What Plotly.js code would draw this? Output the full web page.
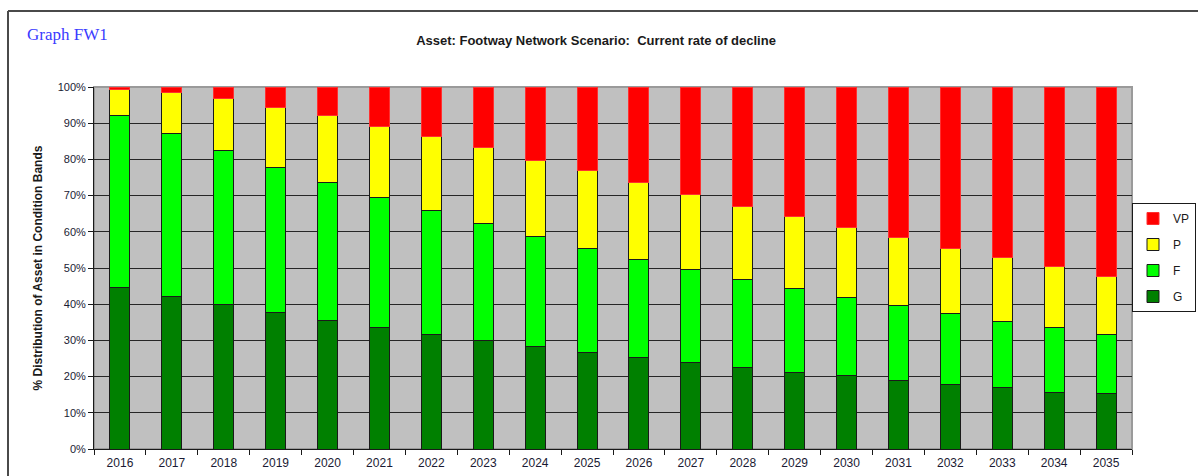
<!DOCTYPE html>
<html>
<head>
<meta charset="utf-8">
<script src="https://cdn.plot.ly/plotly-3.0.1.min.js"></script>
<style>
  html, body { margin: 0; padding: 0; background: #ffffff; }
  #chart { width: 1198px; height: 476px; }
</style>
</head>
<body>
<div id="chart"></div>
<script>
// Years (categories)
const years = ["2016","2017","2018","2019","2020","2021","2022","2023","2024","2025",
               "2026","2027","2028","2029","2030","2031","2032","2033","2034","2035"];

// Condition band shares (% of asset)
const goodG      = [44.5, 42.1, 39.8, 37.7, 35.4, 33.6, 31.7, 29.9, 28.3, 26.6,
                    25.2, 23.8, 22.6, 21.2, 20.2, 18.8, 17.9, 16.9, 15.7, 15.2];
const fairF      = [47.6, 45.1, 42.6, 40.0, 38.2, 36.0, 34.1, 32.3, 30.5, 28.8,
                    27.2, 25.9, 24.3, 23.1, 21.7, 20.9, 19.5, 18.4, 17.9, 16.3];
const poorP      = [7.3, 11.2, 14.3, 16.7, 18.4, 19.4, 20.5, 21.0, 21.0, 21.5,
                    21.2, 20.7, 20.2, 19.9, 19.2, 18.8, 18.0, 17.5, 16.7, 16.2];
const veryPoorVP = [0.6, 1.6, 3.3, 5.6, 8.0, 11.0, 13.7, 16.8, 20.2, 23.1,
                    26.4, 29.6, 32.9, 35.8, 38.9, 41.5, 44.6, 47.2, 49.7, 52.3];

const seriesNames = ["G", "F", "P", "VP"];
const yTickVals = [0,10,20,30,40,50,60,70,80,90,100];
const yTickText = ["0%","10%","20%","30%","40%","50%","60%","70%","80%","90%","100%"];

function barTrace(name, vals, fill, edge, rank) {
  return {
    type: "bar", name: name, x: years, y: vals, legendgroup: name, legendrank: rank,
    marker: { color: fill, line: { color: edge, width: 1 } },
    hoverinfo: "x+y+name"
  };
}

const data = [
  barTrace(seriesNames[0], goodG, "#008000", "#1a1a1a", 4),
  barTrace(seriesNames[1], fairF, "#00FF00", "#1a1a1a", 3),
  barTrace(seriesNames[2], poorP, "#FFFF00", "#1a1a1a", 2),
  barTrace(seriesNames[3], veryPoorVP, "#FF0000", "#FF3030", 1)
];

// plot area: x 94..1132, y 87..449
const L = 94, R = 1132, T = 87, B = 449;
const pw = R - L, ph = B - T;
function px(xp) { return (xp - L) / pw; }
function py(yp) { return (B - yp) / ph; }

const layout = {
  width: 1198, height: 476,
  margin: { l: L, r: 1198 - R, t: T, b: 476 - B, pad: 0 },
  paper_bgcolor: "#ffffff",
  plot_bgcolor: "#C0C0C0",
  barmode: "stack",
  bargap: 0.615,
  showlegend: true,
  font: { family: "Liberation Sans, Arial, sans-serif", color: "#1a1a1a", size: 11 },
  title: {
    text: "<b>Asset: Footway Network Scenario:  Current rate of decline</b>",
    font: { family: "Liberation Sans, Arial, sans-serif", size: 13, color: "#1a1a1a" },
    xref: "container", x: 0.4975, xanchor: "center",
    yref: "container", y: 1 - 40 / 476, yanchor: "middle"
  },
  xaxis: {
    type: "category",
    showgrid: false,
    showline: true, linecolor: "#1a1a1a", linewidth: 1,
    ticks: "outside", ticklen: 5, tickcolor: "#1a1a1a",
    tickson: "boundaries",
    ticklabelstandoff: 3,
    tickfont: { family: "Liberation Sans, Arial, sans-serif", size: 12, color: "#1a1a33" },
    fixedrange: true
  },
  yaxis: {
    range: [0, 100],
    tickmode: "array",
    tickvals: yTickVals,
    ticktext: yTickText,
    showgrid: true, gridcolor: "#262626", gridwidth: 1,
    zeroline: false,
    showline: true, linecolor: "#1a1a1a", linewidth: 1,
    ticks: "outside", ticklen: 5, tickcolor: "#1a1a1a",
    tickfont: { family: "Liberation Sans, Arial, sans-serif", size: 11, color: "#1a1a33" },
    title: {
      text: "<b>% Distribution of Asset in Condition Bands</b>",
      font: { family: "Liberation Sans, Arial, sans-serif", size: 12, color: "#1a1a1a" },
      standoff: 12
    },
    fixedrange: true
  },
  legend: {
    xref: "container", x: 1196 / 1198, xanchor: "right",
    yref: "container", y: 1 - 203 / 476, yanchor: "top",
    traceorder: "grouped",
    tracegroupgap: 7,
    bordercolor: "#1a1a1a", borderwidth: 1,
    bgcolor: "#ffffff",
    font: { family: "Liberation Sans, Arial, sans-serif", size: 12, color: "#1a1a1a" }
  },
  annotations: [
    {
      text: "Graph FW1", showarrow: false,
      xref: "paper", yref: "paper",
      x: px(25), xanchor: "left", y: py(35), yanchor: "middle",
      font: { family: "Liberation Serif, Times New Roman, serif", size: 17, color: "#3a3aff" }
    }
  ],
  shapes: [
    // outer chart frame (left and top edges)
    { type: "line", xref: "paper", yref: "paper", x0: px(8), x1: px(8), y0: py(476), y1: py(11),
      line: { color: "#4a4a4a", width: 2 } },
    { type: "line", xref: "paper", yref: "paper", x0: px(8), x1: px(1198), y0: py(11), y1: py(11),
      line: { color: "#4a4a4a", width: 2 } },
    // plot area border (grey)
    { type: "rect", xref: "paper", yref: "paper", x0: 0, x1: 1, y0: 0, y1: 1, layer: "below",
      line: { color: "#9a9a9a", width: 2 } }
  ]
};

Plotly.newPlot("chart", data, layout, { displayModeBar: false, staticPlot: true });
</script>
</body>
</html>
